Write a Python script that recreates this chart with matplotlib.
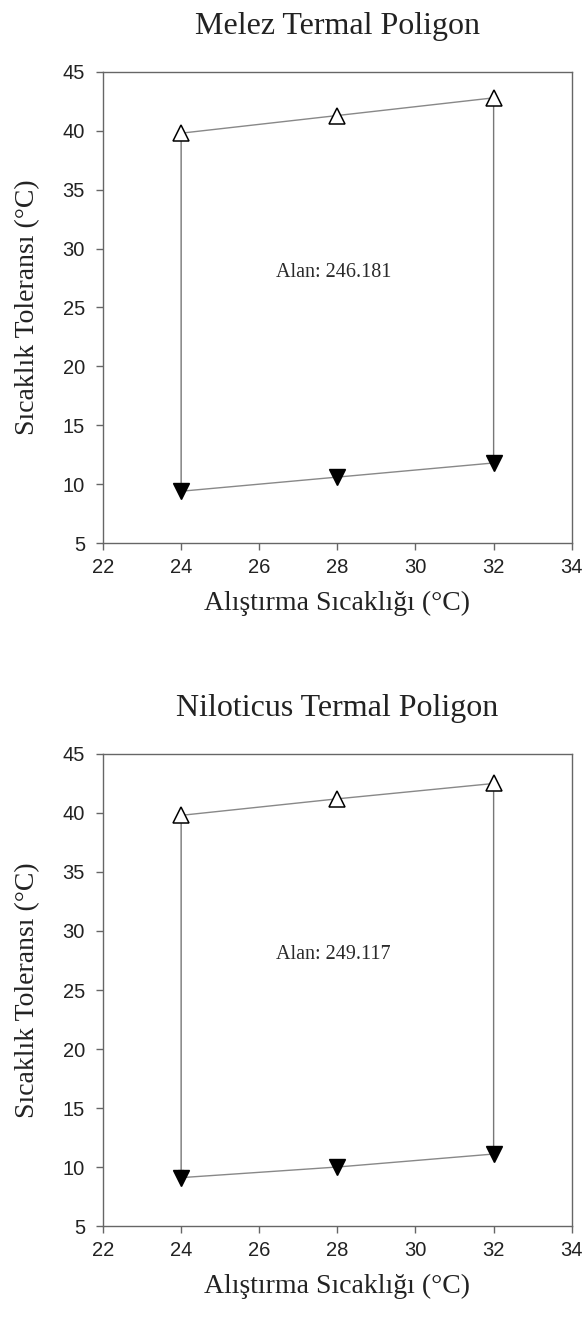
import matplotlib.pyplot as plt

# data
acclim = [24, 28, 32]
melez_ctmax = [39.8, 41.3, 42.8]
melez_ctmin = [9.4, 10.6, 11.8]
nilo_ctmax = [39.8, 41.2, 42.5]
nilo_ctmin = [9.1, 10.0, 11.1]
titles = ['Melez Termal Poligon', 'Niloticus Termal Poligon']
areas = ['Alan: 246.181', 'Alan: 249.117']

serif = ['Liberation Serif', 'DejaVu Serif']
sans = ['Liberation Sans', 'DejaVu Sans']

fig = plt.figure(figsize=(5.84, 13.2), dpi=100)
ax1 = fig.add_axes([0.1764, 0.5886, 0.8026, 0.3569])
ax2 = fig.add_axes([0.1764, 0.0712, 0.8026, 0.3576])

groups = [(ax1, melez_ctmax, melez_ctmin), (ax2, nilo_ctmax, nilo_ctmin)]
for i, (ax, up, lo) in enumerate(groups):
    ax.plot(acclim, up, color='#888888', lw=1, zorder=2)
    ax.plot(acclim, lo, color='#888888', lw=1, zorder=2)
    # vertical arrows at the outer acclimation temps
    for j in [0, -1]:
        ax.annotate('', xy=(acclim[j], lo[j]), xytext=(acclim[j], up[j]),
                    arrowprops=dict(arrowstyle='-|>', color='#777777', lw=1,
                                    shrinkA=6, shrinkB=0, mutation_scale=10),
                    zorder=1)
    ax.plot(acclim, up, ls='none', marker='^', ms=11, mfc='white',
            mec='black', mew=1.1, zorder=3)
    ax.plot(acclim, lo, ls='none', marker='v', ms=11, mfc='black',
            mec='black', zorder=3)
    ax.text(27.9, 28, areas[i], ha='center', va='center', fontsize=14.5,
            family=serif, color='#2a2a2a')

    ax.set_xlim(22, 34)
    ax.set_ylim(5, 45)
    ax.set_xticks(range(22, 35, 2))
    ax.set_yticks(range(5, 46, 5))
    ax.tick_params(axis='both', direction='out', length=5, width=1,
                   color='#666666', labelsize=14.5, labelcolor='#222222')
    ax.tick_params(axis='x', pad=6)
    ax.tick_params(axis='y', pad=8)
    for lab in ax.get_xticklabels() + ax.get_yticklabels():
        lab.set_family(sans)
    for s in ax.spines.values():
        s.set_color('#666666')
        s.set_linewidth(1)
    ax.set_title(titles[i], family=serif, fontsize=23, pad=27, color='#222222')
    ax.set_xlabel('Alıştırma Sıcaklığı (°C)', family=serif, fontsize=20,
                  labelpad=10, color='#222222')
    ax.set_ylabel('Sıcaklık Toleransı (°C)', family=serif, fontsize=20,
                  labelpad=16, color='#222222')

fig.savefig('out.png', dpi=100)
